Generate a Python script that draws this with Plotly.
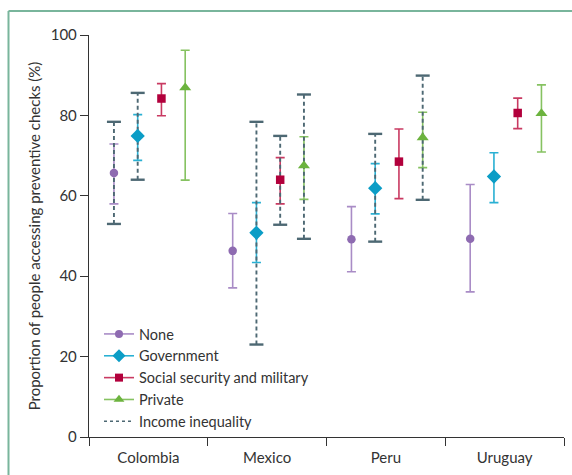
import plotly.graph_objects as go

# Countries on the x axis
countries = ["Colombia", "Mexico", "Peru", "Uruguay"]

# Point estimates and 95% CI per insurance type (%)
none_mid = [65.7, 46.3, 49.2, 49.3]
none_lo = [58.0, 37.1, 41.1, 36.1]
none_hi = [72.9, 55.6, 57.3, 62.8]

gov_mid = [74.9, 50.8, 61.9, 64.8]
gov_lo = [68.8, 43.4, 55.5, 58.3]
gov_hi = [80.2, 58.3, 68.0, 70.7]

soc_mid = [84.2, 64.0, 68.5, 80.6]
soc_lo = [79.9, 58.0, 59.3, 76.7]
soc_hi = [87.9, 69.5, 76.6, 84.3]

priv_mid = [86.9, 67.5, 74.5, 80.5]
priv_lo = [63.9, 59.1, 67.0, 70.9]
priv_hi = [96.2, 74.7, 80.8, 87.6]

# Income inequality ranges (None = not shown)
ineq_none_lo = [53.0, None, None, None]
ineq_none_hi = [78.4, None, None, None]
ineq_gov_lo = [64.0, 23.0, 48.6, None]
ineq_gov_hi = [85.6, 78.4, 75.4, None]
ineq_soc_lo = [None, 52.8, None, None]
ineq_soc_hi = [None, 74.9, None, None]
ineq_priv_lo = [None, 49.3, 59.0, None]
ineq_priv_hi = [None, 85.2, 89.9, None]

series = [
    dict(name="None", mid=none_mid, lo=none_lo, hi=none_hi,
         ilo=ineq_none_lo, ihi=ineq_none_hi, off=-0.29,
         color="#8e6bb1", bar="#a98cc6", symbol="circle", size=8.5, lsize=8),
    dict(name="Government", mid=gov_mid, lo=gov_lo, hi=gov_hi,
         ilo=ineq_gov_lo, ihi=ineq_gov_hi, off=-0.09,
         color="#0b9dc6", bar="#29b0d3", symbol="diamond", size=11, lsize=10),
    dict(name="Social security and military", mid=soc_mid, lo=soc_lo, hi=soc_hi,
         ilo=ineq_soc_lo, ihi=ineq_soc_hi, off=0.11,
         color="#b2003c", bar="#c93a62", symbol="square", size=8.5, lsize=8),
    dict(name="Private", mid=priv_mid, lo=priv_lo, hi=priv_hi,
         ilo=ineq_priv_lo, ihi=ineq_priv_hi, off=0.31,
         color="#6cb33e", bar="#86c261", symbol="triangle-up", size=10.5, lsize=9.5),
]

INEQ_COLOR = "#4d6873"
FONT = "Lato"

fig = go.Figure()

# 1) confidence intervals (error bars only)
for s in series:
    xs = [i + s["off"] for i in range(len(countries))]
    fig.add_trace(go.Scatter(
        x=xs, y=s["mid"], mode="markers",
        marker=dict(color="rgba(0,0,0,0)", size=1),
        error_y=dict(type="data", symmetric=False,
                     array=[h - m for h, m in zip(s["hi"], s["mid"])],
                     arrayminus=[m - l for m, l in zip(s["mid"], s["lo"])],
                     color=s["bar"], thickness=1.6, width=4.5),
        showlegend=False, hoverinfo="skip"))

# 2) income inequality ranges: dashed stems with solid caps
for s in series:
    lx, ly, cx, cy = [], [], [], []
    for i, (lo, hi) in enumerate(zip(s["ilo"], s["ihi"])):
        if lo is None or hi is None:
            continue
        x = i + s["off"]
        lx += [x, x, None]
        ly += [lo, hi, None]
        cx += [x, x]
        cy += [lo, hi]
    if lx:
        fig.add_trace(go.Scatter(
            x=lx, y=ly, mode="lines",
            line=dict(color=INEQ_COLOR, width=1.9, dash="4px,3px"),
            showlegend=False, hoverinfo="skip"))
        fig.add_trace(go.Scatter(
            x=cx, y=cy, mode="markers",
            marker=dict(symbol="line-ew", size=10,
                        line=dict(color=INEQ_COLOR, width=2.4)),
            showlegend=False, hoverinfo="skip"))

# 3) point estimates on top
for s in series:
    xs = [i + s["off"] for i in range(len(countries))]
    fig.add_trace(go.Scatter(
        x=xs, y=s["mid"], mode="markers",
        marker=dict(color=s["color"], symbol=s["symbol"], size=s["size"],
                    line=dict(width=0)),
        showlegend=False, name=s["name"]))

# legend entries
for s in series:
    fig.add_trace(go.Scatter(
        x=[None], y=[None], mode="lines+markers", name=s["name"],
        line=dict(color=s["bar"], width=1.6),
        marker=dict(color=s["color"], symbol=s["symbol"], size=s["lsize"])))
fig.add_trace(go.Scatter(
    x=[None], y=[None], mode="lines", name="Income inequality",
    line=dict(color=INEQ_COLOR, width=1.5, dash="3px,3px")))

# frame lines along the top and left of the panel
PL, PT, PW, PH = 89, 35, 475, 402
def px_x(v):
    return (v - PL) / PW
def px_y(v):
    return (PT + PH - v) / PH

frame = "#79b59c"
fig.add_shape(type="line", xref="paper", yref="paper",
              x0=px_x(8.5), x1=px_x(600), y0=px_y(11), y1=px_y(11),
              line=dict(color=frame, width=2))
fig.add_shape(type="line", xref="paper", yref="paper",
              x0=px_x(8.5), x1=px_x(8.5), y0=px_y(11), y1=px_y(500),
              line=dict(color=frame, width=2))

fig.update_layout(
    width=572, height=475,
    margin=dict(l=PL, r=572 - PL - PW, t=PT, b=475 - PT - PH),
    paper_bgcolor="white", plot_bgcolor="white",
    font=dict(family=FONT, size=14, color="#333333"),
    showlegend=True,
    legend=dict(x=px_x(99), y=px_y(438), xanchor="left", yanchor="bottom",
                bgcolor="rgba(0,0,0,0)", font=dict(size=14.5, color="#333333"),
                itemwidth=30, tracegroupgap=0),
    xaxis=dict(range=[-0.5, 3.5], tickmode="array",
               tickvals=list(range(len(countries))), ticktext=countries,
               ticks="", showgrid=False, zeroline=False,
               showline=True, linecolor="#333333", linewidth=1.4,
               tickfont=dict(size=15, color="#333333"),
               ticklabelstandoff=7,
               minor=dict(tickmode="array", tickvals=[-0.5, 0.5, 1.5, 2.5, 3.5],
                          ticks="outside", ticklen=8, tickwidth=1.4,
                          tickcolor="#333333", showgrid=False)),
    yaxis=dict(range=[0, 100], tickmode="array",
               tickvals=[0, 20, 40, 60, 80, 100],
               ticks="outside", ticklen=8, tickwidth=1.4, tickcolor="#333333",
               showgrid=False, zeroline=False,
               showline=True, linecolor="#333333", linewidth=1.4,
               tickfont=dict(size=15, color="#333333"),
               title=dict(text="Proportion of people accessing preventive checks (%)",
                          font=dict(size=15, color="#333333"), standoff=6)),
)

fig.write_html("out.html")
